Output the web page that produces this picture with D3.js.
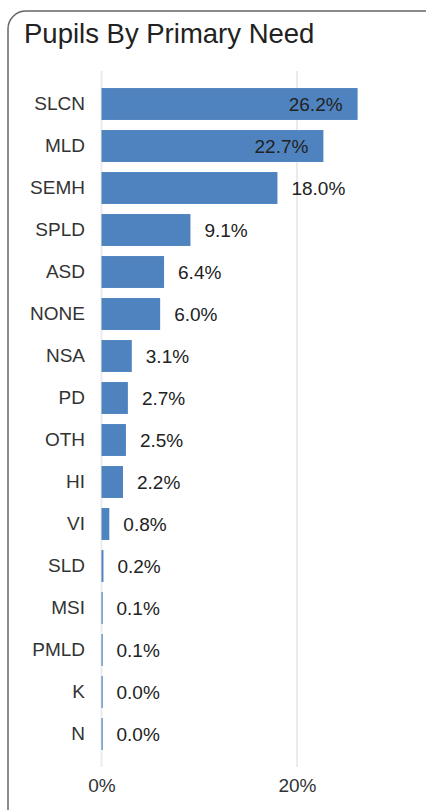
<!DOCTYPE html>
<html>
<head>
<meta charset="utf-8">
<script src="https://cdn.jsdelivr.net/npm/d3@7"></script>
<style>
  body { margin: 0; background: #fff; }
  svg { display: block; font-family: "Liberation Sans", Arial, sans-serif; }
</style>
</head>
<body>
<script>
//chart data
var needs = ["SLCN", "MLD", "SEMH", "SPLD", "ASD", "NONE", "NSA", "PD", "OTH", "HI", "VI", "SLD", "MSI", "PMLD", "K", "N"];
var shares = [26.2, 22.7, 18.0, 9.1, 6.4, 6.0, 3.1, 2.7, 2.5, 2.2, 0.8, 0.2, 0.1, 0.1, 0.0, 0.0];
var ticks = [0, 20];

function drawChart(){
    var width = 426,
        height = 810,
        fontSize = 19;

    var svg = d3.select("body")
        .append("svg")
        .attr("width", width)
        .attr("height", height);

    //card frame
    svg.append("rect")
        .attr("x", 8)
        .attr("y", 11)
        .attr("width", 440)
        .attr("height", 820)
        .attr("rx", 18)
        .attr("fill", "#fff")
        .attr("stroke", "#666")
        .attr("stroke-width", 1.5);

    svg.append("text")
        .attr("x", 24)
        .attr("y", 43)
        .attr("font-size", 27.5)
        .attr("fill", "#222")
        .text("Pupils By Primary Need");

    //scales
    var x = d3.scaleLinear()
        .domain([0, 20])
        .range([101.5, 297]);

    var y = d3.scaleBand()
        .domain(needs)
        .range([83, 83 + 42 * needs.length])
        .paddingInner(0.24)
        .paddingOuter(0.12);

    //grid lines
    svg.selectAll(".grid")
        .data(ticks)
        .enter()
        .append("line")
        .attr("class", "grid")
        .attr("x1", function(d){ return x(d); })
        .attr("x2", function(d){ return x(d); })
        .attr("y1", 71)
        .attr("y2", 767)
        .attr("stroke", "#ebebeb")
        .attr("stroke-width", 2);

    //x axis labels
    var xAxis = d3.axisBottom(x)
        .tickValues(ticks)
        .tickSize(0)
        .tickPadding(0)
        .tickFormat(function(d){ return d + "%"; });

    var gx = svg.append("g")
        .attr("transform", "translate(0,778)")
        .call(xAxis);
    gx.select(".domain").remove();
    gx.selectAll("text")
        .attr("font-size", fontSize)
        .attr("font-family", "Liberation Sans, Arial, sans-serif")
        .attr("fill", "#333");

    //y axis labels
    var yAxis = d3.axisLeft(y)
        .tickSize(0)
        .tickPadding(16);

    var gy = svg.append("g")
        .attr("transform", "translate(101,0)")
        .call(yAxis);
    gy.select(".domain").remove();
    gy.selectAll("text")
        .attr("font-size", fontSize)
        .attr("font-family", "Liberation Sans, Arial, sans-serif")
        .attr("fill", "#333");

    //bars
    svg.selectAll(".bar")
        .data(needs)
        .enter()
        .append("rect")
        .attr("class", "bar")
        .attr("x", x(0))
        .attr("y", function(d){ return y(d); })
        .attr("width", function(d, i){ return Math.max(x(shares[i]) - x(0), 1.2); })
        .attr("height", y.bandwidth())
        .attr("fill", "#4f83bf");

    //value labels
    svg.selectAll(".val")
        .data(needs)
        .enter()
        .append("text")
        .attr("class", "val")
        .attr("x", function(d, i){
            return shares[i] > 20 ? x(shares[i]) - 15 : Math.max(x(shares[i]), x(0) + 1) + 14;
        })
        .attr("y", function(d){ return y(d) + y.bandwidth() / 2 + 7; })
        .attr("text-anchor", function(d, i){ return shares[i] > 20 ? "end" : "start"; })
        .attr("font-size", fontSize)
        .attr("fill", "#222")
        .text(function(d, i){ return shares[i].toFixed(1) + "%"; });
}

window.onload = drawChart();
</script>
</body>
</html>
